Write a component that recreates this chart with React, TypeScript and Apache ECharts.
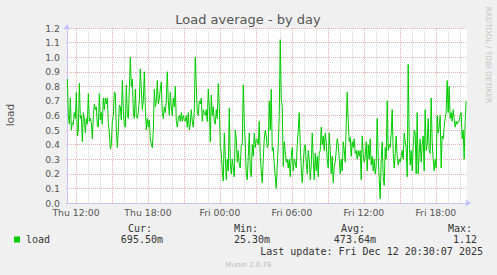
import { useEffect, useRef } from 'react';
import * as echarts from 'echarts';

// Load average samples, one per 5 minutes (Thu 11:17 -> Fri 20:32)
const loadThuMidday = [
  0.85, 0.6, 0.54, 0.72, 0.5, 0.55, 0.54, 0.62, 0.58, 0.76, 0.46, 0.5, 0.82, 0.58, 0.6, 0.42,
  0.62, 0.58, 0.48, 0.58, 0.54, 0.75, 0.56, 0.58, 0.55, 0.44, 0.6, 0.68, 0.64, 0.66, 0.53, 0.52,
  0.75, 0.57, 0.62, 0.54, 0.72, 0.64, 0.72, 0.68, 0.72, 0.55, 0.48, 0.37, 0.4, 0.56, 0.6, 0.76,
  0.75, 0.5, 0.38, 0.5, 0.67, 0.66, 0.57, 0.84, 0.64, 0.53, 0.52, 0.81, 0.6, 0.58, 0.79, 1.0, 0.8,
];
const loadThuEvening = [
  0.85, 0.62, 0.58, 0.78, 0.6, 0.58, 0.62, 0.7, 0.92, 0.78, 0.64, 0.7, 0.9, 0.66, 0.5, 0.58,
  0.52, 0.57, 0.44, 0.4, 0.38, 0.5, 0.78, 0.66, 0.7, 0.84, 0.68, 0.72, 0.78, 0.83, 0.62, 0.58,
  0.66, 0.62, 0.7, 0.9, 0.7, 0.6, 0.76, 0.66, 0.6, 0.72, 0.66, 0.8, 0.56, 0.52, 0.58, 0.6,
  0.56, 0.62, 0.56, 0.6, 0.57, 0.56, 0.6, 0.52, 0.62, 0.5, 0.54, 0.64, 0.56, 0.52, 0.62, 1.0,
  0.8, 0.62, 0.6, 0.7, 0.68, 0.72, 0.56,
];
const loadFriNight = [
  0.64, 0.62, 0.6, 0.64, 0.56, 0.78, 0.66, 0.42, 0.74, 0.6, 0.66, 0.56, 0.54, 0.64, 0.58, 0.82,
  0.66, 0.4, 0.34, 0.22, 0.15, 0.48, 0.32, 0.16, 0.3, 0.22, 0.65, 0.28, 0.2, 0.3, 0.24, 0.18,
  0.5, 0.44, 0.28, 0.36, 0.26, 0.24, 0.4, 0.4, 0.81, 0.56, 0.4, 0.2, 0.16, 0.32, 0.48, 0.22,
  0.18, 0.4, 0.32, 0.48, 0.38, 0.44, 0.43, 0.4, 0.56, 0.32, 0.22, 0.14, 0.3, 0.44, 0.5, 0.46,
  0.38, 0.4, 0.7, 0.5,
];
const loadFriMorning = [
  0.78, 0.36, 0.38, 0.26, 0.18, 0.1, 0.26, 0.4, 0.6, 1.12, 0.72, 0.66, 0.25, 0.42, 0.35, 0.28,
  0.3, 0.24, 0.3, 0.18, 0.32, 0.38, 0.22, 0.3, 0.28, 0.24, 0.4, 0.5, 0.62, 0.4, 0.24, 0.14,
  0.26, 0.38, 0.4, 0.28, 0.2, 0.36, 0.3, 0.16, 0.26, 0.48, 0.3, 0.16, 0.34, 0.22, 0.32, 0.18,
  0.34, 0.36, 0.52, 0.4, 0.46, 0.36, 0.48, 0.42, 0.3, 0.24, 0.48, 0.36, 0.2, 0.32, 0.14, 0.25,
  0.28, 0.36, 0.44, 0.4,
];
const loadFriAfternoon = [
  0.3, 0.2, 0.3, 0.22, 0.42, 0.36, 0.28, 0.55, 0.76, 0.56, 0.42, 0.45, 0.32, 0.42, 0.38, 0.44,
  0.34, 0.36, 0.3, 0.36, 0.32, 0.36, 0.16, 0.46, 0.34, 0.28, 0.32, 0.42, 0.22, 0.4, 0.3, 0.44,
  0.26, 0.32, 0.22, 0.3, 0.2, 0.26, 0.58, 0.32, 0.16, 0.03, 0.3, 0.42, 0.18, 0.12, 0.38, 0.3,
  0.7, 0.36, 0.4, 0.38, 0.48, 0.64, 0.34, 0.24, 0.34, 0.46, 0.32, 0.26, 0.3, 0.28, 0.32, 0.36,
  0.3, 0.48, 0.42, 0.38,
];
const loadFriEvening = [
  0.18, 0.95, 0.44, 0.26, 0.36, 0.22, 0.38, 0.5, 0.48, 0.2, 0.62, 0.2, 0.34, 0.44, 0.28, 0.4,
  0.46, 0.22, 0.64, 0.36, 0.4, 0.58, 0.36, 0.34, 0.72, 0.42, 0.3, 0.22, 0.3, 0.24, 0.6, 0.48,
  0.52, 0.6, 0.24, 0.46, 0.44, 0.52, 0.58, 0.62, 0.84, 0.62, 0.8, 0.58, 0.62, 0.56, 0.64, 0.58,
  0.52, 0.56, 0.54, 0.56, 0.56, 0.6, 0.62, 0.44, 0.5, 0.3, 0.56, 0.7,
];

// Time axis: hours counted from Thu 00:00
const START_HOUR = 11.28;
const STEP_HOURS = 5 / 60;
const AXIS_MIN = 11.25;
const AXIS_MAX = 44.6;
const minorHourTicks = [13, 14, 16, 17, 19, 20, 22, 23, 25, 26, 28, 29, 31, 32, 34, 35, 37, 38, 40, 41, 43, 44];
const majorHourTicks = [12, 15, 18, 21, 24, 27, 30, 33, 36, 39, 42];
const labelHourTicks = [12, 18, 24, 30, 36, 42];

const statHeaders = ['Cur:', 'Min:', 'Avg:', 'Max:'];
const statValues = ['695.50m', '25.30m', '473.64m', '1.12'];
const seriesName = 'load';
const lastUpdate = 'Last update: Fri Dec 12 20:30:07 2025';

const SANS = 'DejaVu Sans';
const MONO = 'DejaVu Sans Mono';
const MAJOR = '#ebb0b0';
const MINOR = '#d6d6d6';
const AXIS = '#c4c4f8';
const TEXT = '#555555';

function hourLabel(v: number) {
  const day = v < 24 ? 'Thu' : 'Fri';
  const h = Math.round(v) % 24;
  return `${day} ${String(h).padStart(2, '0')}:00`;
}

export default function App() {
  const ref = useRef<HTMLDivElement>(null);

  useEffect(() => {
    const chart = echarts.init(ref.current!, null, { renderer: 'svg' });
    const load = [
      ...loadThuMidday,
      ...loadThuEvening,
      ...loadFriNight,
      ...loadFriMorning,
      ...loadFriAfternoon,
      ...loadFriEvening,
    ];
    const data = load.map((v, i) => [START_HOUR + i * STEP_HOURS, v]);

    const statX = [128, 234, 341, 448];
    const valueRight = [163, 270, 376, 477];

    const graphics: any[] = [
      {
        type: 'text',
        x: 248,
        y: 19.5,
        style: { text: 'Load average - by day', font: `13px "${SANS}"`, fill: TEXT, align: 'center', verticalAlign: 'middle' },
      },
      {
        type: 'text',
        x: 10,
        y: 115,
        rotation: Math.PI / 2,
        style: { text: 'load', font: `10.6px "${SANS}"`, fill: TEXT, align: 'center', verticalAlign: 'middle' },
      },
      {
        type: 'text',
        x: 488,
        y: 55,
        rotation: -Math.PI / 2,
        style: { text: 'RRDTOOL / TOBI OETIKER', font: `7.5px "${SANS}"`, fill: '#c4c4c4', align: 'center', verticalAlign: 'middle' },
      },
      {
        type: 'rect',
        shape: { x: 14, y: 236.5, width: 6, height: 6 },
        style: { fill: '#00cc00' },
      },
      {
        type: 'text',
        x: 26,
        y: 239.5,
        style: { text: seriesName, font: `10px "${MONO}"`, fill: '#333', align: 'left', verticalAlign: 'middle' },
      },
      {
        type: 'text',
        x: 483,
        y: 251.5,
        style: { text: lastUpdate, font: `10px "${MONO}"`, fill: '#333', align: 'right', verticalAlign: 'middle' },
      },
      {
        type: 'text',
        x: 248.5,
        y: 264.5,
        style: { text: 'Munin 2.0.76', font: `7px "${SANS}"`, fill: '#bdbdbd', align: 'center', verticalAlign: 'middle' },
      },
    ];
    statHeaders.forEach((h, i) => {
      graphics.push({
        type: 'text',
        x: statX[i],
        y: 228,
        style: { text: h, font: `10px "${MONO}"`, fill: '#333', align: 'left', verticalAlign: 'middle' },
      });
    });
    statValues.forEach((v, i) => {
      graphics.push({
        type: 'text',
        x: valueRight[i],
        y: 239.5,
        style: { text: v, font: `10px "${MONO}"`, fill: '#333', align: 'right', verticalAlign: 'middle' },
      });
    });

    chart.setOption({
      animation: false,
      backgroundColor: '#f0f0f0',
      grid: { left: 67, right: 30, top: 28, bottom: 72, show: true, backgroundColor: '#ffffff', borderWidth: 0 },
      xAxis: [
        {
          type: 'value',
          min: AXIS_MIN,
          max: AXIS_MAX,
          position: 'bottom',
          axisLine: {
            show: true,
            lineStyle: { color: AXIS, width: 1 },
            symbol: ['none', 'arrow'],
            symbolSize: [6, 6],
            symbolOffset: [0, 4],
          },
          axisTick: { show: true, customValues: minorHourTicks, length: 2, lineStyle: { color: MINOR, type: [1, 1] } },
          axisLabel: { show: false },
          splitLine: { show: true, lineStyle: { color: MINOR, type: [1, 1], width: 1 } },
        },
        {
          type: 'value',
          min: AXIS_MIN,
          max: AXIS_MAX,
          position: 'bottom',
          axisLine: { show: false },
          axisTick: { show: true, customValues: majorHourTicks, length: 2, lineStyle: { color: MAJOR, type: [1, 1] } },
          axisLabel: {
            customValues: labelHourTicks,
            formatter: (v: number) => hourLabel(v),
            color: TEXT,
            fontFamily: SANS,
            fontSize: 9.3,
            margin: 5,
          },
          splitLine: { show: true, lineStyle: { color: MAJOR, type: [1, 1], width: 1 } },
        },
      ],
      yAxis: {
        type: 'value',
        min: 0,
        max: 1.2,
        interval: 0.1,
        axisLine: {
          show: true,
          lineStyle: { color: AXIS, width: 1 },
          symbol: ['none', 'arrow'],
          symbolSize: [6, 6],
          symbolOffset: [0, 4],
        },
        axisTick: { show: true, length: 2, lineStyle: { color: MAJOR, type: [1, 1] } },
        axisLabel: {
          formatter: (v: number) => v.toFixed(1),
          color: TEXT,
          fontFamily: SANS,
          fontSize: 9.3,
          margin: 7,
        },
        splitLine: { show: true, lineStyle: { color: MAJOR, type: [1, 1], width: 1 } },
      },
      series: [
        {
          name: seriesName,
          type: 'line',
          xAxisIndex: 0,
          data,
          symbol: 'none',
          showSymbol: false,
          silent: true,
          z: 3,
          lineStyle: { color: '#00cc00', width: 1 },
          itemStyle: { color: '#00cc00' },
        },
      ],
      graphic: graphics,
    });

    return () => chart.dispose();
  }, []);

  return <div ref={ref} style={{ position: 'fixed', left: 0, top: 0, width: 497, height: 275 }} />;
}
